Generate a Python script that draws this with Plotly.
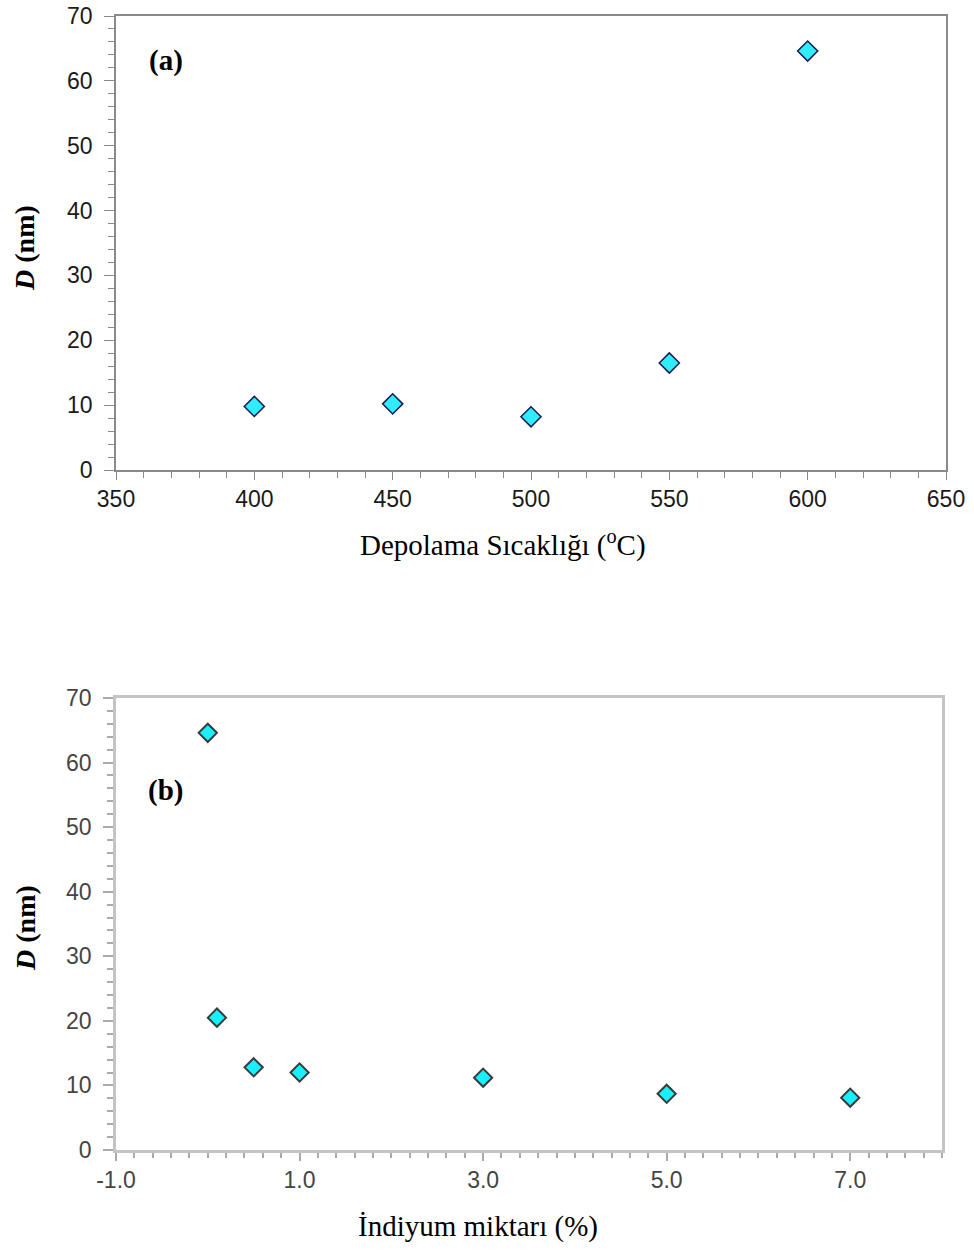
import plotly.graph_objects as go

# Panel (a): deposition temperature vs crystallite size
temp_c = [400, 450, 500, 550, 600]
size_a_nm = [9.8, 10.2, 8.2, 16.5, 64.6]

# Panel (b): indium content vs crystallite size
indium_pct = [0, 0.1, 0.5, 1, 3, 5, 7]
size_b_nm = [64.6, 20.5, 12.8, 12.0, 11.2, 8.7, 8.1]

xb_tickvals = [-1, 1, 3, 5, 7]
xb_ticktext = ["-1.0", "1.0", "3.0", "5.0", "7.0"]

W, H = 974, 1260

fig = go.Figure()
fig.add_trace(go.Scatter(
    x=temp_c, y=size_a_nm, mode="markers", xaxis="x", yaxis="y",
    marker=dict(symbol="diamond", size=15.5, color="#30ECFF",
                line=dict(color="#1b1b4d", width=1.5)),
    showlegend=False))
fig.add_trace(go.Scatter(
    x=indium_pct, y=size_b_nm, mode="markers", xaxis="x2", yaxis="y2",
    marker=dict(symbol="diamond", size=14, color="#18F0FF",
                line=dict(color="#3a3a3a", width=2)),
    showlegend=False))

tickfont_a = dict(family="Liberation Sans, Arial", size=23, color="#1a1a1a")
tickfont_b = dict(family="Liberation Sans, Arial", size=23, color="#444444")

def px_x(p):
    return p / W

def px_y(p):
    return 1 - p / H

common = dict(automargin=False, ticklabeloverflow="allow", showgrid=False, zeroline=False,
              showline=True, mirror=True, ticks="outside")

fig.update_layout(
    width=W, height=H,
    margin=dict(l=0, r=0, t=0, b=0),
    paper_bgcolor="white", plot_bgcolor="white",
    xaxis=dict(domain=[px_x(116), px_x(946)], anchor="y",
               range=[350, 650], tick0=350, dtick=50,
               linecolor="#8a8a8a", linewidth=1.5,
               ticklen=8, tickcolor="#8a8a8a", tickwidth=1,
               minor=dict(dtick=10, ticks="outside", ticklen=6, tickcolor="#8a8a8a"),
               tickfont=tickfont_a, **common),
    yaxis=dict(domain=[px_y(470), px_y(16)], anchor="x",
               range=[0, 70], tick0=0, dtick=10, ticklabelstandoff=7,
               linecolor="#8a8a8a", linewidth=1.5,
               ticklen=10, tickcolor="#8a8a8a", tickwidth=1,
               minor=dict(dtick=2, ticks="outside", ticklen=6, tickcolor="#8a8a8a"),
               tickfont=tickfont_a, **common),
    xaxis2=dict(domain=[px_x(116), px_x(942)], anchor="y2",
                range=[-1, 8], tickmode="array", tickvals=xb_tickvals, ticktext=xb_ticktext,
                linecolor="#c4c4c4", linewidth=2.5,
                ticklen=8, tickcolor="#aaaaaa", tickwidth=1.5,
                minor=dict(tick0=-1, dtick=0.2, ticks="outside", ticklen=5, tickcolor="#aaaaaa", tickwidth=1.5),
                tickfont=tickfont_b, **common),
    yaxis2=dict(domain=[px_y(1150), px_y(698)], anchor="x2",
                range=[0, 70], tick0=0, dtick=10, ticklabelstandoff=7,
                linecolor="#c4c4c4", linewidth=2.5,
                ticklen=10, tickcolor="#aaaaaa", tickwidth=1.5,
                minor=dict(dtick=2, ticks="outside", ticklen=6, tickcolor="#aaaaaa", tickwidth=1.5),
                tickfont=tickfont_b, **common),
)

serif = "Liberation Serif, Times New Roman"
annos = [
    dict(text="<b>(a)</b>", x=px_x(166), y=px_y(60), size=29),
    dict(text="<b>(b)</b>", x=px_x(165), y=px_y(790), size=29),
    dict(text="Depolama Sıcaklığı (<sup>o</sup>C)", x=px_x(503), y=px_y(543), size=29),
    dict(text="İndiyum miktarı (%)", x=px_x(478), y=px_y(1226), size=29),
]
for a in annos:
    fig.add_annotation(text=a["text"], x=a["x"], y=a["y"], xref="paper", yref="paper",
                       showarrow=False, xanchor="center", yanchor="middle",
                       font=dict(family=serif, size=a["size"], color="black"))
for yc in (px_y(248), px_y(928)):
    fig.add_annotation(text="<b><i>D</i> (nm)</b>", x=px_x(25), y=yc, xref="paper", yref="paper",
                       showarrow=False, xanchor="center", yanchor="middle", textangle=-90,
                       font=dict(family=serif, size=28, color="black"))

fig.write_html("out.html", config={"displayModeBar": False},
               post_script="document.body.style.margin='0';")
